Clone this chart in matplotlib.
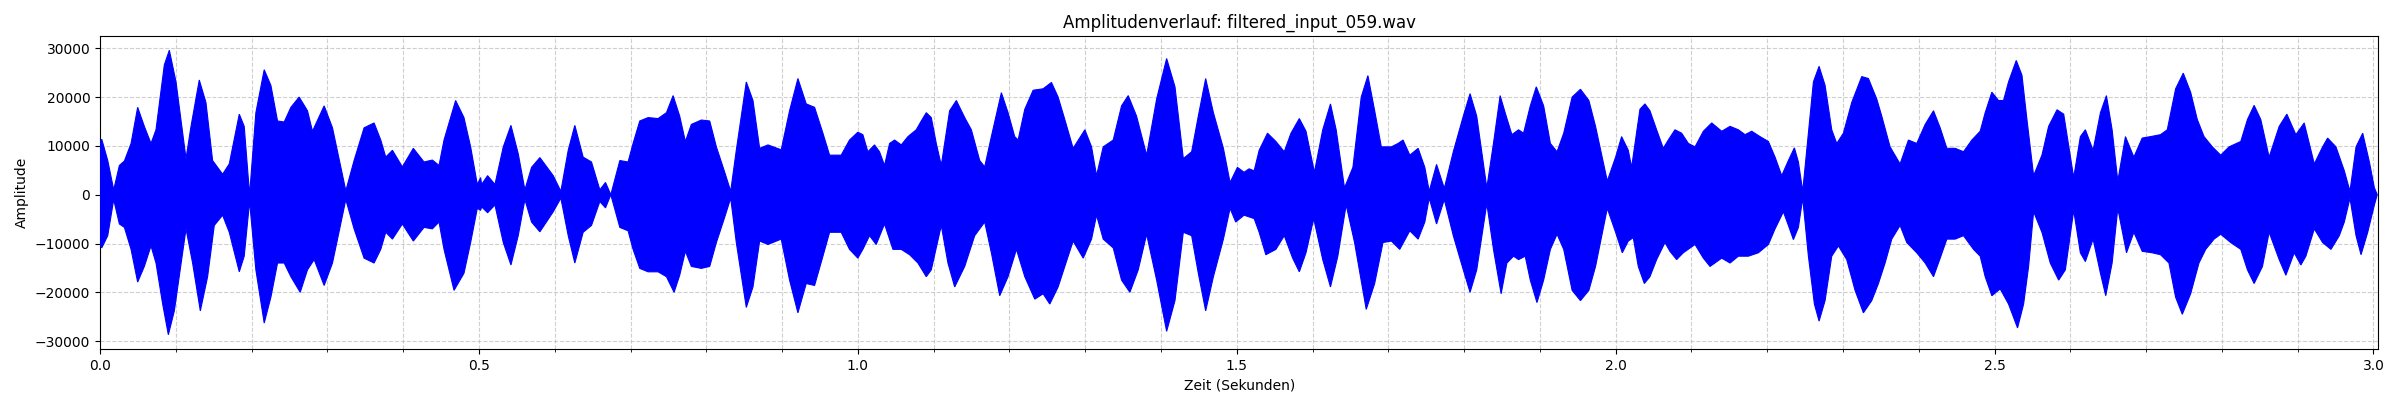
import numpy as np
import matplotlib
matplotlib.use("Agg")
import matplotlib.pyplot as plt
from matplotlib.ticker import MultipleLocator

title = "Amplitudenverlauf: filtered_input_059.wav"
x_label = "Zeit (Sekunden)"
y_label = "Amplitude"
duration = 3.0066

# Upper envelope of the waveform: (time in s, amplitude)
upper_env = [
    (0.0, 10800), (0.0022, 11350), (0.0101, 7000), (0.0180, 1000), (0.0255, 6000), (0.0321, 6900),
    (0.0409, 10500), (0.0496, 17900), (0.0584, 14000), (0.0672, 10500), (0.0738, 13300),
    (0.0848, 26600), (0.0914, 29600), (0.1002, 23100), (0.1134, 7400), (0.1200, 14000),
    (0.1309, 23500), (0.1397, 18900), (0.1485, 7000), (0.1617, 4200), (0.1705, 6300),
    (0.1837, 16500), (0.1902, 14000), (0.1973, 0), (0.2056, 16800), (0.2166, 25600),
    (0.2254, 22400), (0.2342, 15100), (0.2430, 14900), (0.2518, 17900), (0.2627, 20000),
    (0.2737, 17200), (0.2803, 13000), (0.2957, 18200), (0.3067, 13700), (0.3243, 800),
    (0.3352, 7000), (0.3484, 13700), (0.3616, 14700), (0.3704, 11200), (0.3770, 7700),
    (0.3858, 9100), (0.3989, 5700), (0.4134, 9500), (0.4275, 6700), (0.4385, 7100),
    (0.4473, 6000), (0.4539, 11200), (0.4692, 19300), (0.4802, 15800), (0.4890, 9800),
    (0.4978, 2100), (0.5022, 3500),
    (0.5035, 2100), (0.5114, 3900), (0.5211, 2100), (0.5321, 9800), (0.5422, 14200),
    (0.5518, 8400), (0.5606, 1000), (0.5694, 5600), (0.5804, 7600), (0.5980, 3900),
    (0.6081, 700), (0.6178, 9100), (0.6265, 14200), (0.6375, 7700), (0.6485, 6700),
    (0.6595, 1000), (0.6670, 2500), (0.6740, 0), (0.6859, 7000), (0.6968, 6700),
    (0.7034, 10500), (0.7122, 15100), (0.7232, 15800), (0.7364, 15600), (0.7474, 16800),
    (0.7562, 20300), (0.7649, 16100), (0.7724, 10900), (0.7803, 14400), (0.7935, 15300),
    (0.8045, 15100), (0.8133, 9800), (0.8243, 4600), (0.8322, 700), (0.8396, 9100),
    (0.8528, 23100), (0.8616, 19300), (0.8704, 9500), (0.8814, 10200), (0.8989, 9200),
    (0.9099, 17200), (0.9209, 23800), (0.9319, 18600), (0.9429, 17900), (0.9539, 12600),
    (0.9627, 8100), (0.9780, 8100), (0.9890, 11200),
    (1.0000, 12800), (1.0066, 12300), (1.0132, 8800), (1.0220, 10200), (1.0286, 8800),
    (1.0352, 6000), (1.0419, 10500), (1.0485, 11200), (1.0573, 10200), (1.0661, 11900),
    (1.0771, 13300), (1.0837, 15100), (1.0903, 16800), (1.0969, 15800), (1.1035, 10500),
    (1.1101, 6000), (1.1211, 17200), (1.1300, 19300), (1.1410, 15800), (1.1498, 13300),
    (1.1608, 7000), (1.1674, 5700), (1.1762, 11900), (1.1894, 20900), (1.1982, 16800),
    (1.2070, 11900), (1.2115, 11200), (1.2203, 17500), (1.2313, 21400), (1.2445, 21700),
    (1.2555, 23000), (1.2643, 20000), (1.2731, 15400), (1.2841, 9500), (1.2996, 13300),
    (1.3084, 9800), (1.3150, 3900), (1.3238, 9800), (1.3370, 11200), (1.3480, 18200),
    (1.3568, 20300), (1.3678, 16100), (1.3811, 8100), (1.3943, 19600), (1.4075, 27900),
    (1.4185, 22100), (1.4295, 7400), (1.4405, 8800), (1.4493, 16100), (1.4590, 23800),
    (1.4692, 16800), (1.4824, 9500), (1.4912, 2500),
    (1.5009, 5600), (1.5097, 4600), (1.5163, 5300), (1.5230, 4900), (1.5296, 9100),
    (1.5406, 12600), (1.5517, 10900), (1.5627, 8800), (1.5716, 12600), (1.5826, 15600),
    (1.5914, 13000), (1.6025, 4600), (1.6135, 13300), (1.6237, 18600), (1.6312, 13300),
    (1.6422, 1400), (1.6533, 5600), (1.6643, 20000), (1.6731, 24400), (1.6820, 17200),
    (1.6908, 9800), (1.7041, 9800), (1.7129, 10500), (1.7195, 11200), (1.7284, 8100),
    (1.7394, 9500), (1.7482, 5600), (1.7540, 700), (1.7637, 6200), (1.7739, 1300),
    (1.7858, 8800), (1.7990, 16100), (1.8079, 20700), (1.8167, 16100), (1.8300, 1400),
    (1.8388, 10500), (1.8476, 20300), (1.8542, 16800), (1.8631, 12300), (1.8719, 13300),
    (1.8785, 12600), (1.8874, 18200), (1.8953, 22100), (1.9050, 18200), (1.9139, 10500),
    (1.9227, 8800), (1.9315, 12600), (1.9426, 20000), (1.9536, 21600), (1.9647, 19300),
    (1.9735, 14000), (1.9890, 2800),
    (2.0000, 7700), (2.0079, 11900), (2.0167, 9100), (2.0211, 5600), (2.0321, 17500),
    (2.0387, 18600), (2.0453, 17200), (2.0541, 13300), (2.0629, 9500), (2.0695, 11200),
    (2.0783, 13300), (2.0871, 12600), (2.0960, 10500), (2.1048, 9800), (2.1158, 13000),
    (2.1268, 14700), (2.1400, 13000), (2.1510, 14000), (2.1620, 13300), (2.1708, 12300),
    (2.1796, 13000), (2.1906, 11900), (2.2016, 10900), (2.2104, 7700), (2.2192, 3900),
    (2.2280, 7000), (2.2359, 9600), (2.2412, 6700), (2.2469, 700), (2.2544, 12600),
    (2.2610, 23100), (2.2685, 26300), (2.2764, 22400), (2.2852, 13300), (2.2918, 10500),
    (2.3006, 12600), (2.3116, 18900), (2.3248, 24200), (2.3336, 23800), (2.3446, 19600),
    (2.3512, 16100), (2.3622, 9800), (2.3754, 6300), (2.3864, 11200), (2.3974, 10500),
    (2.4085, 14400), (2.4195, 17200), (2.4283, 13700), (2.4371, 9500), (2.4481, 9500),
    (2.4591, 8800), (2.4701, 11200), (2.4811, 13000), (2.4877, 16800), (2.4965, 21000),
    (2.5053, 19300), (2.5119, 19300), (2.5185, 23100), (2.5287, 27500), (2.5362, 24500),
    (2.5428, 15400), (2.5516, 3900), (2.5626, 8100), (2.5714, 14000), (2.5825, 17400),
    (2.5913, 16500), (2.6045, 3500), (2.6133, 11900), (2.6199, 13300), (2.6301, 9100),
    (2.6398, 16800), (2.6477, 20300), (2.6552, 13300), (2.6627, 2800), (2.6728, 11900),
    (2.6839, 7700), (2.6949, 11600), (2.7059, 11900), (2.7191, 12300), (2.7280, 13300),
    (2.7390, 21700), (2.7491, 24900), (2.7588, 21000), (2.7676, 15400), (2.7765, 11900),
    (2.7875, 9800), (2.7985, 8100), (2.8095, 9800), (2.8250, 10900), (2.8338, 15400),
    (2.8426, 18300), (2.8514, 15400), (2.8624, 7700), (2.8757, 14000), (2.8858, 16500),
    (2.8977, 12300), (2.9087, 14700), (2.9220, 6300), (2.9330, 9800), (2.9396, 11600),
    (2.9506, 9800), (2.9616, 4900), (2.9691, 700), (2.9771, 9800), (2.9859, 12600),
    (2.9947, 6700), (3.0013, 1400), (3.0049, 100),
]

# Lower envelope of the waveform: (time in s, amplitude)
lower_env = [
    (0.0, -10200), (0.0022, -10900), (0.0101, -8400), (0.0180, -1000), (0.0255, -6000), (0.0321, -6700),
    (0.0409, -11200), (0.0496, -17900), (0.0584, -14700), (0.0672, -10500), (0.0738, -14000),
    (0.0826, -22400), (0.0901, -28700), (0.0980, -23800), (0.1134, -7000), (0.1221, -14000),
    (0.1323, -23800), (0.1419, -16800), (0.1507, -6300), (0.1617, -4200), (0.1705, -7700),
    (0.1837, -15800), (0.1902, -12600), (0.1973, -1400), (0.2056, -15400), (0.2166, -26300),
    (0.2254, -21000), (0.2342, -14000), (0.2430, -14000), (0.2518, -16800), (0.2641, -20000),
    (0.2737, -15400), (0.2825, -13300), (0.2957, -18600), (0.3067, -14000), (0.3243, -1000),
    (0.3352, -7000), (0.3484, -13000), (0.3616, -14000), (0.3704, -11200), (0.3770, -7700),
    (0.3858, -9100), (0.3989, -6000), (0.4134, -9500), (0.4275, -6700), (0.4385, -7000),
    (0.4473, -5600), (0.4539, -11200), (0.4671, -19600), (0.4802, -16100), (0.4890, -9800),
    (0.4978, -2800), (0.5022, -3200),
    (0.5035, -2500), (0.5114, -3700), (0.5211, -2100), (0.5321, -9800), (0.5422, -14400),
    (0.5518, -8400), (0.5606, -1000), (0.5694, -5600), (0.5804, -7600), (0.5980, -3500),
    (0.6081, -700), (0.6178, -8400), (0.6265, -14000), (0.6375, -7700), (0.6485, -6300),
    (0.6595, -1400), (0.6670, -2700), (0.6740, 0), (0.6859, -6700), (0.6968, -7400),
    (0.7034, -11200), (0.7122, -15100), (0.7232, -15800), (0.7364, -15800), (0.7474, -16800),
    (0.7575, -20000), (0.7649, -16500), (0.7724, -11600), (0.7803, -14700), (0.7935, -15100),
    (0.8045, -14700), (0.8133, -9800), (0.8243, -4600), (0.8322, -700), (0.8396, -9800),
    (0.8528, -23100), (0.8616, -18900), (0.8704, -9500), (0.8814, -10200), (0.8989, -9100),
    (0.9099, -17500), (0.9209, -24200), (0.9319, -18200), (0.9429, -18600), (0.9539, -12600),
    (0.9627, -7700), (0.9780, -7700), (0.9890, -11200),
    (1.0000, -13000), (1.0066, -11200), (1.0154, -8400), (1.0242, -10200), (1.0352, -6000),
    (1.0463, -11200), (1.0573, -11200), (1.0683, -12300), (1.0793, -14000), (1.0903, -16800),
    (1.0969, -15400), (1.1101, -6300), (1.1189, -14000), (1.1278, -18900), (1.1410, -14700),
    (1.1542, -8400), (1.1674, -5600), (1.1762, -11900), (1.1872, -20700), (1.1982, -16800),
    (1.2093, -11200), (1.2203, -16800), (1.2335, -21400), (1.2445, -20300), (1.2533, -22400),
    (1.2643, -18900), (1.2731, -14700), (1.2841, -9500), (1.2974, -13000), (1.3084, -9100),
    (1.3150, -4200), (1.3238, -9100), (1.3370, -10900), (1.3480, -17500), (1.3590, -20000),
    (1.3700, -15400), (1.3811, -8100), (1.3943, -17500), (1.4075, -28000), (1.4185, -21700),
    (1.4295, -7700), (1.4405, -8400), (1.4493, -16100), (1.4590, -23800), (1.4692, -16800),
    (1.4824, -9100), (1.4912, -2800),
    (1.4987, -5600), (1.5097, -4200), (1.5230, -4900), (1.5296, -7700), (1.5384, -12300),
    (1.5517, -11200), (1.5627, -8400), (1.5738, -13000), (1.5826, -15800), (1.5914, -11900),
    (1.6016, -4900), (1.6135, -13300), (1.6237, -18900), (1.6334, -12600), (1.6444, -2100),
    (1.6555, -9800), (1.6709, -23500), (1.6820, -18200), (1.6930, -9800), (1.7041, -9500),
    (1.7151, -11200), (1.7284, -7400), (1.7394, -9100), (1.7482, -5600), (1.7540, -700),
    (1.7637, -6000), (1.7739, -1000), (1.7858, -8400), (1.7990, -15400), (1.8079, -20000),
    (1.8167, -15400), (1.8300, -1800), (1.8388, -11200), (1.8489, -20300), (1.8565, -14000),
    (1.8653, -12600), (1.8719, -13300), (1.8807, -12600), (1.8874, -17500), (1.8962, -22100),
    (1.9050, -17500), (1.9139, -11200), (1.9227, -8100), (1.9315, -11200), (1.9426, -19600),
    (1.9536, -21700), (1.9647, -19600), (1.9735, -14700), (1.9890, -2800),
    (2.0000, -7700), (2.0088, -11900), (2.0167, -9500), (2.0233, -8800), (2.0299, -14700),
    (2.0379, -18200), (2.0453, -16800), (2.0541, -13300), (2.0651, -9800), (2.0717, -11600),
    (2.0805, -13300), (2.0893, -11900), (2.1048, -10200), (2.1158, -13000), (2.1246, -14700),
    (2.1400, -13000), (2.1510, -14000), (2.1620, -12600), (2.1752, -12600), (2.1884, -11900),
    (2.2016, -10200), (2.2104, -7000), (2.2214, -3500), (2.2280, -6300), (2.2346, -9200),
    (2.2412, -6700), (2.2469, -700), (2.2544, -12600), (2.2623, -22400), (2.2685, -25900),
    (2.2764, -21700), (2.2852, -12600), (2.2940, -10500), (2.3050, -13300), (2.3160, -19600),
    (2.3270, -24200), (2.3380, -21700), (2.3468, -18200), (2.3556, -14000), (2.3644, -9100),
    (2.3754, -6300), (2.3842, -9800), (2.3974, -11900), (2.4085, -14000), (2.4195, -16800),
    (2.4283, -13000), (2.4371, -9100), (2.4481, -9100), (2.4591, -8400), (2.4723, -11200),
    (2.4811, -12600), (2.4877, -16800), (2.4965, -20700),
    (2.5075, -19300), (2.5185, -22400), (2.5304, -27300), (2.5384, -22400), (2.5450, -14700),
    (2.5516, -3500), (2.5626, -7700), (2.5736, -14000), (2.5847, -17500), (2.5935, -15400),
    (2.6045, -3200), (2.6133, -11900), (2.6199, -13700), (2.6301, -9100), (2.6398, -16100),
    (2.6468, -20700), (2.6552, -14000), (2.6627, -2800), (2.6742, -11900), (2.6839, -7700),
    (2.6949, -11600), (2.7081, -11900), (2.7191, -12300), (2.7302, -14000), (2.7390, -21000),
    (2.7478, -24500), (2.7588, -20300), (2.7698, -14000), (2.7787, -11200), (2.7897, -9100),
    (2.7985, -8100), (2.8117, -9800), (2.8250, -11200), (2.8338, -15400), (2.8426, -18200),
    (2.8536, -14700), (2.8624, -7700), (2.8757, -13300), (2.8845, -16500), (2.8955, -11900),
    (2.9043, -14400), (2.9109, -12600), (2.9220, -7000), (2.9330, -9800), (2.9440, -11200),
    (2.9550, -8400), (2.9616, -5600), (2.9691, -700), (2.9771, -8400), (2.9837, -12300),
    (2.9925, -7700), (3.0013, -2100), (3.0049, -100),
]

t_up, a_up = (np.array(v, dtype=float) for v in zip(*upper_env))
t_lo, a_lo = (np.array(v, dtype=float) for v in zip(*lower_env))

fig, ax = plt.subplots(figsize=(24, 4), dpi=100)
fig.subplots_adjust(left=0.0417, right=0.991, top=0.91, bottom=0.1275)

poly_t = np.concatenate([t_up, t_lo[::-1]])
poly_a = np.concatenate([a_up, a_lo[::-1]])
ax.fill(poly_t, poly_a, color="blue", edgecolor="blue", linewidth=0.8, zorder=3)

ax.set_xlim(0, duration)
ax.xaxis.set_major_locator(MultipleLocator(0.5))
ax.xaxis.set_minor_locator(MultipleLocator(0.1))
ax.yaxis.set_major_locator(MultipleLocator(10000))
ax.grid(True, which="both", linestyle="--", alpha=0.6)

ax.set_title(title)
ax.set_xlabel(x_label)
ax.set_ylabel(y_label)

fig.savefig("out.png", dpi=100)
